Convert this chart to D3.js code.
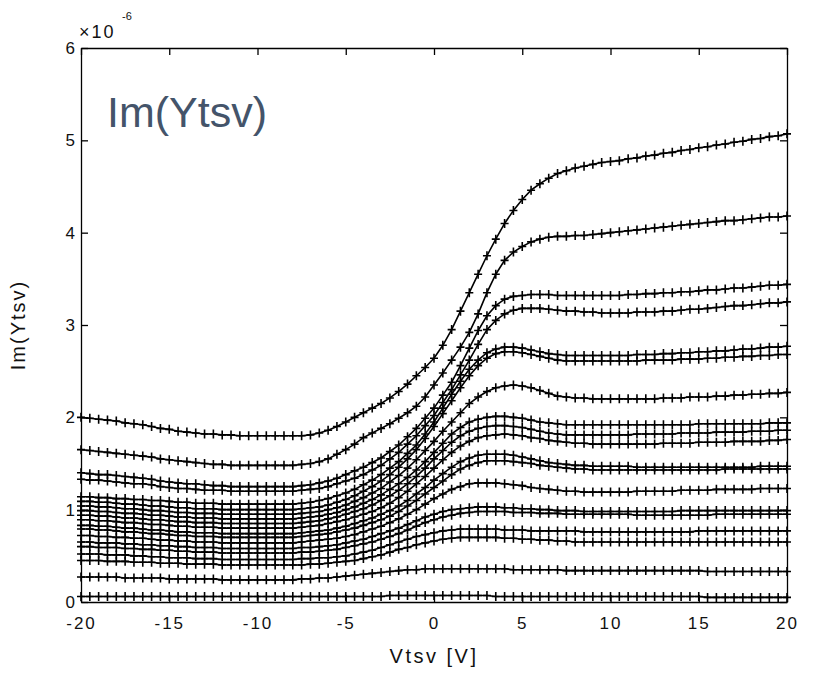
<!DOCTYPE html>
<html>
<head>
<meta charset="utf-8">
<script src="https://cdn.jsdelivr.net/npm/d3@7"></script>
<style>
  body { margin: 0; background: #fff; }
  svg text { font-family: "Liberation Sans", Arial, sans-serif; }
</style>
</head>
<body>
<svg id="chart" width="818" height="674"></svg>
<script>
// gate voltage sweep, -20 V .. 20 V in 0.5 V steps (81 points)
var vtsv = d3.range(-20, 20.25, 0.5);

var curveA = [2.00,1.99,1.98,1.97,1.96,1.94,1.93,1.92,1.90,1.88,1.87,1.85,1.84,1.83,1.82,1.82,1.81,1.81,1.80,1.80,1.80,
  1.80,1.80,1.80,1.80,1.80,1.81,
  1.83,1.86,1.90,1.95,2.00,2.05,2.10,2.15,2.21,2.28,2.36,2.45,2.54,2.64,2.78,2.95,3.15,3.35,3.55,3.75,3.93,4.10,4.24,4.36,4.46,4.53,4.59,4.64,4.67,4.70,4.72,4.74,4.76,4.77,
  4.78,4.80,4.81,4.83,4.84,4.86,4.87,4.89,4.90,4.92,4.93,4.95,4.96,4.98,4.99,5.01,5.02,5.04,5.05,5.07];
var curveB = [1.65,1.64,1.63,1.62,1.61,1.60,1.59,1.58,1.57,1.55,1.54,1.53,1.52,1.51,1.50,1.49,1.49,1.48,1.48,1.48,1.48,
  1.48,1.48,1.48,1.48,1.49,1.50,
  1.52,1.55,1.60,1.65,1.71,1.78,1.83,1.88,1.93,1.99,2.05,2.12,2.22,2.35,2.48,2.62,2.76,2.92,3.12,3.35,3.55,3.70,3.79,3.85,3.90,3.93,3.95,3.96,3.96,3.97,3.97,3.98,3.99,4.00,
  4.01,4.02,4.03,4.04,4.05,4.06,4.07,4.08,4.09,4.10,4.11,4.12,4.13,4.13,4.14,4.15,4.16,4.17,4.17,4.18];
var curveC = [1.40,1.39,1.38,1.38,1.37,1.36,1.35,1.34,1.33,1.31,1.30,1.29,1.28,1.28,1.27,1.26,1.26,1.25,1.25,1.25,1.25,
  1.25,1.25,1.25,1.25,1.26,1.27,
  1.29,1.31,1.34,1.38,1.42,1.46,1.51,1.56,1.63,1.70,1.79,1.88,1.99,2.10,2.24,2.38,2.56,2.75,2.94,3.10,3.21,3.28,3.31,3.32,3.33,3.33,3.33,3.32,3.32,3.32,3.32,3.32,3.32,3.32,
  3.32,3.33,3.33,3.34,3.34,3.35,3.35,3.36,3.36,3.37,3.38,3.38,3.39,3.40,3.40,3.41,3.42,3.43,3.43,3.44];
var curveD = [1.33,1.32,1.32,1.31,1.30,1.29,1.28,1.28,1.27,1.25,1.24,1.23,1.23,1.22,1.21,1.21,1.21,1.20,1.20,1.20,1.20,
  1.20,1.20,1.20,1.20,1.21,1.22,
  1.23,1.25,1.28,1.31,1.34,1.38,1.43,1.48,1.55,1.62,1.71,1.80,1.91,2.02,2.16,2.30,2.46,2.62,2.79,2.95,3.05,3.12,3.16,3.18,3.18,3.18,3.17,3.16,3.15,3.15,3.14,3.14,3.13,3.13,
  3.13,3.13,3.14,3.14,3.14,3.15,3.15,3.16,3.17,3.17,3.18,3.19,3.20,3.21,3.21,3.22,3.23,3.24,3.24,3.25];
var curveE = [1.14,1.14,1.13,1.13,1.12,1.12,1.11,1.11,1.10,1.10,1.09,1.08,1.08,1.07,1.07,1.07,1.06,1.06,1.06,1.06,1.06,
  1.06,1.06,1.06,1.06,1.07,1.08,
  1.10,1.12,1.15,1.18,1.22,1.27,1.32,1.38,1.45,1.52,1.61,1.70,1.82,1.95,2.10,2.25,2.39,2.52,2.62,2.70,2.74,2.76,2.76,2.75,2.73,2.71,2.69,2.68,2.67,2.67,2.67,2.67,2.67,2.67,
  2.67,2.67,2.68,2.68,2.68,2.69,2.69,2.70,2.70,2.71,2.71,2.72,2.72,2.73,2.74,2.74,2.75,2.76,2.76,2.77];
var curveF = [1.09,1.09,1.08,1.08,1.07,1.06,1.06,1.05,1.04,1.04,1.03,1.02,1.02,1.01,1.01,1.01,1.00,1.00,1.00,1.00,1.00,
  1.00,1.00,1.00,1.00,1.01,1.02,
  1.03,1.05,1.08,1.11,1.15,1.20,1.25,1.31,1.38,1.46,1.55,1.65,1.77,1.90,2.04,2.18,2.32,2.45,2.56,2.64,2.69,2.71,2.71,2.70,2.68,2.66,2.64,2.62,2.61,2.61,2.61,2.61,2.61,2.61,
  2.61,2.61,2.61,2.62,2.62,2.62,2.62,2.63,2.63,2.63,2.64,2.64,2.65,2.65,2.66,2.66,2.67,2.67,2.68,2.68];
var curveG = [1.04,1.04,1.03,1.03,1.02,1.01,1.01,1.00,0.99,0.99,0.98,0.97,0.97,0.96,0.96,0.96,0.95,0.95,0.95,0.95,0.95,
  0.95,0.95,0.95,0.95,0.96,0.97,
  0.98,1.00,1.02,1.05,1.09,1.13,1.18,1.23,1.30,1.37,1.45,1.54,1.64,1.74,1.85,1.95,2.05,2.15,2.22,2.28,2.32,2.34,2.35,2.34,2.32,2.29,2.26,2.23,2.22,2.21,2.21,2.20,2.20,2.20,
  2.20,2.20,2.20,2.20,2.20,2.21,2.21,2.21,2.22,2.22,2.22,2.23,2.23,2.24,2.24,2.25,2.25,2.26,2.26,2.27];
var curveH = [0.99,0.99,0.98,0.98,0.97,0.96,0.96,0.95,0.94,0.94,0.93,0.92,0.92,0.91,0.91,0.91,0.90,0.90,0.90,0.90,0.90,
  0.90,0.90,0.90,0.90,0.91,0.92,
  0.93,0.95,0.97,1.00,1.03,1.07,1.11,1.16,1.22,1.28,1.35,1.43,1.52,1.62,1.72,1.82,1.89,1.95,1.98,2.00,2.01,2.01,2.00,1.99,1.97,1.95,1.94,1.93,1.92,1.92,1.92,1.92,1.92,1.92,
  1.92,1.92,1.92,1.92,1.92,1.92,1.92,1.92,1.92,1.93,1.93,1.93,1.93,1.93,1.93,1.93,1.93,1.94,1.94,1.94];
var curveI = [0.94,0.94,0.93,0.93,0.92,0.91,0.91,0.90,0.89,0.89,0.88,0.87,0.87,0.86,0.86,0.86,0.85,0.85,0.85,0.85,0.85,
  0.85,0.85,0.85,0.85,0.86,0.87,
  0.88,0.90,0.92,0.95,0.98,1.01,1.05,1.10,1.15,1.21,1.28,1.36,1.45,1.55,1.64,1.73,1.80,1.85,1.88,1.90,1.91,1.91,1.90,1.89,1.87,1.85,1.83,1.82,1.81,1.81,1.81,1.81,1.81,1.81,
  1.81,1.81,1.82,1.82,1.82,1.82,1.82,1.83,1.83,1.83,1.83,1.84,1.84,1.84,1.84,1.85,1.85,1.85,1.86,1.86];
var curveJ = [0.89,0.89,0.88,0.88,0.87,0.86,0.86,0.85,0.84,0.84,0.83,0.82,0.82,0.81,0.81,0.81,0.80,0.80,0.80,0.80,0.80,
  0.80,0.80,0.80,0.80,0.81,0.82,
  0.83,0.85,0.87,0.89,0.92,0.95,0.98,1.02,1.07,1.13,1.20,1.28,1.36,1.45,1.54,1.62,1.69,1.74,1.78,1.80,1.81,1.82,1.81,1.80,1.78,1.77,1.75,1.74,1.73,1.72,1.72,1.71,1.71,1.71,
  1.71,1.71,1.71,1.71,1.71,1.72,1.72,1.72,1.72,1.73,1.73,1.73,1.73,1.74,1.74,1.74,1.74,1.75,1.75,1.76];
var curveK = [0.83,0.83,0.82,0.82,0.81,0.80,0.80,0.79,0.78,0.78,0.77,0.76,0.76,0.75,0.75,0.75,0.74,0.74,0.74,0.74,0.74,
  0.74,0.74,0.74,0.74,0.75,0.76,
  0.77,0.78,0.80,0.82,0.85,0.88,0.91,0.95,0.99,1.04,1.10,1.17,1.24,1.32,1.39,1.46,1.52,1.56,1.59,1.60,1.60,1.60,1.59,1.57,1.55,1.53,1.51,1.50,1.49,1.48,1.48,1.47,1.47,1.47,
  1.47,1.47,1.46,1.46,1.46,1.46,1.46,1.46,1.46,1.46,1.46,1.46,1.46,1.46,1.46,1.46,1.47,1.47,1.47,1.47];
var curveL = [0.79,0.79,0.78,0.78,0.77,0.76,0.76,0.75,0.74,0.74,0.73,0.72,0.72,0.71,0.71,0.71,0.70,0.70,0.70,0.70,0.70,
  0.70,0.70,0.70,0.70,0.71,0.72,
  0.73,0.74,0.76,0.78,0.80,0.83,0.86,0.89,0.93,0.98,1.04,1.10,1.17,1.24,1.31,1.38,1.44,1.48,1.51,1.53,1.53,1.53,1.52,1.51,1.50,1.48,1.47,1.46,1.45,1.44,1.44,1.43,1.43,1.43,
  1.43,1.43,1.43,1.43,1.43,1.43,1.43,1.43,1.43,1.43,1.43,1.43,1.44,1.44,1.44,1.44,1.44,1.44,1.44,1.44];
var curveM = [0.72,0.72,0.71,0.71,0.70,0.70,0.69,0.69,0.68,0.67,0.67,0.66,0.66,0.65,0.65,0.65,0.64,0.64,0.64,0.64,0.64,
  0.64,0.64,0.64,0.64,0.65,0.66,
  0.67,0.68,0.69,0.71,0.73,0.76,0.79,0.82,0.86,0.90,0.95,1.00,1.06,1.12,1.17,1.22,1.25,1.28,1.29,1.29,1.29,1.28,1.27,1.26,1.24,1.23,1.22,1.21,1.20,1.20,1.19,1.19,1.19,1.19,
  1.19,1.19,1.20,1.20,1.20,1.20,1.20,1.21,1.21,1.21,1.21,1.22,1.22,1.22,1.22,1.22,1.23,1.23,1.23,1.23];
var curveN = [0.65,0.65,0.64,0.64,0.64,0.63,0.63,0.62,0.62,0.61,0.61,0.60,0.60,0.59,0.59,0.59,0.58,0.58,0.58,0.58,0.58,
  0.58,0.58,0.58,0.58,0.59,0.59,
  0.60,0.61,0.62,0.64,0.66,0.68,0.71,0.74,0.77,0.80,0.84,0.88,0.92,0.95,0.98,1.00,1.01,1.02,1.03,1.03,1.03,1.02,1.02,1.01,1.01,1.00,1.00,0.99,0.99,0.99,0.98,0.98,0.98,0.98,
  0.98,0.98,0.98,0.98,0.98,0.98,0.98,0.99,0.99,0.99,0.99,0.99,0.99,0.99,0.99,0.99,0.99,0.99,0.99,0.99];
var curveO = [0.60,0.60,0.59,0.59,0.59,0.58,0.58,0.57,0.57,0.56,0.56,0.55,0.55,0.54,0.54,0.54,0.53,0.53,0.53,0.53,0.53,
  0.53,0.53,0.53,0.53,0.54,0.54,
  0.55,0.56,0.57,0.59,0.61,0.63,0.65,0.68,0.71,0.74,0.78,0.82,0.86,0.89,0.92,0.94,0.96,0.97,0.98,0.98,0.98,0.98,0.97,0.97,0.97,0.96,0.96,0.96,0.95,0.95,0.95,0.95,0.95,0.95,
  0.95,0.95,0.94,0.94,0.94,0.94,0.94,0.94,0.94,0.94,0.94,0.95,0.95,0.95,0.95,0.95,0.95,0.95,0.95,0.95];
var curveP = [0.52,0.52,0.52,0.51,0.51,0.51,0.50,0.50,0.49,0.49,0.48,0.48,0.48,0.47,0.47,0.47,0.46,0.46,0.46,0.46,0.46,
  0.46,0.46,0.46,0.46,0.47,0.47,
  0.48,0.48,0.49,0.50,0.52,0.54,0.56,0.59,0.62,0.65,0.68,0.71,0.73,0.75,0.77,0.78,0.79,0.79,0.79,0.79,0.79,0.78,0.78,0.78,0.77,0.77,0.77,0.77,0.77,0.77,0.76,0.76,0.76,0.76,
  0.76,0.76,0.76,0.76,0.76,0.76,0.76,0.76,0.76,0.77,0.77,0.77,0.77,0.77,0.77,0.77,0.77,0.77,0.77,0.77];
var curveQ = [0.45,0.45,0.45,0.44,0.44,0.44,0.43,0.43,0.43,0.42,0.42,0.42,0.41,0.41,0.41,0.41,0.40,0.40,0.40,0.40,0.40,
  0.40,0.40,0.40,0.40,0.40,0.41,
  0.41,0.42,0.43,0.44,0.45,0.47,0.49,0.51,0.54,0.57,0.59,0.62,0.64,0.66,0.68,0.69,0.70,0.70,0.70,0.70,0.70,0.69,0.69,0.68,0.68,0.67,0.67,0.66,0.66,0.65,0.65,0.65,0.65,0.65,
  0.65,0.65,0.65,0.65,0.65,0.65,0.65,0.65,0.65,0.65,0.65,0.65,0.65,0.65,0.65,0.65,0.65,0.65,0.65,0.65];
var curveR = [0.27,0.27,0.27,0.27,0.27,0.26,0.26,0.26,0.26,0.26,0.25,0.25,0.25,0.25,0.25,0.25,0.24,0.24,0.24,0.24,0.24,
  0.24,0.24,0.24,0.24,0.25,0.25,
  0.26,0.26,0.27,0.28,0.29,0.30,0.31,0.32,0.33,0.34,0.35,0.35,0.36,0.36,0.36,0.36,0.36,0.36,0.36,0.36,0.36,0.36,0.35,0.35,0.35,0.35,0.35,0.35,0.34,0.34,0.34,0.34,0.34,0.34,
  0.34,0.34,0.34,0.34,0.34,0.34,0.34,0.34,0.34,0.34,0.33,0.33,0.33,0.33,0.33,0.33,0.33,0.33,0.33,0.33];
var curveS = [0.06,0.06,0.06,0.06,0.06,0.06,0.06,0.06,0.06,0.06,0.06,0.06,0.06,0.06,0.06,0.06,0.06,0.06,0.06,0.06,0.06,
  0.06,0.06,0.06,0.06,0.06,0.06,
  0.06,0.06,0.06,0.06,0.06,0.06,0.06,0.06,0.07,0.07,0.07,0.07,0.07,0.07,0.07,0.07,0.07,0.07,0.07,0.07,0.06,0.06,0.06,0.06,0.06,0.06,0.06,0.06,0.06,0.06,0.06,0.06,0.06,0.06,
  0.06,0.06,0.06,0.06,0.06,0.06,0.06,0.06,0.06,0.06,0.05,0.05,0.05,0.05,0.05,0.05,0.05,0.05,0.05,0.05];

var series = [curveA, curveB, curveC, curveD, curveE, curveF, curveG, curveH, curveI, curveJ,
              curveK, curveL, curveM, curveN, curveO, curveP, curveQ, curveR, curveS];

var xTicks = [-20, -15, -10, -5, 0, 5, 10, 15, 20];
var yTicks = [0, 1, 2, 3, 4, 5, 6];

var margin = {top: 48, right: 31, bottom: 72, left: 81};
var width = 818 - margin.left - margin.right;
var height = 674 - margin.top - margin.bottom;

var x = d3.scaleLinear().domain([-20, 20]).range([0, width]);
var y = d3.scaleLinear().domain([0, 6]).range([height, 0]);

var svg = d3.select("#chart");
var g = svg.append("g")
    .attr("transform", "translate(" + margin.left + "," + margin.top + ")");

var line = d3.line()
    .x(function(d, i) { return x(vtsv[i]); })
    .y(function(d) { return y(d); });

// curves: solid line with '+' markers
series.forEach(function(s) {
  g.append("path")
      .datum(s)
      .attr("d", line)
      .attr("fill", "none")
      .attr("stroke", "#000")
      .attr("stroke-width", 1.6);

  g.append("g").selectAll("path")
      .data(s)
      .enter()
      .append("path")
      .attr("transform", function(d, i) {
        return "translate(" + x(vtsv[i]) + "," + y(d) + ")";
      })
      .attr("d", "M-4,0H4M0,-4.5V4.5")
      .attr("stroke", "#000")
      .attr("stroke-width", 1.6);
});

// matlab style box, ticks pointing inward on all sides
var fmt = function(d) { return String(d); };

g.append("g")
    .attr("transform", "translate(0," + height + ")")
    .call(d3.axisBottom(x).tickValues(xTicks).tickSizeInner(-7).tickSizeOuter(0).tickPadding(15).tickFormat(fmt));
g.append("g")
    .call(d3.axisTop(x).tickValues(xTicks).tickSizeInner(-7).tickSizeOuter(0).tickFormat(""));
g.append("g")
    .call(d3.axisLeft(y).tickValues(yTicks).tickSizeInner(-7).tickSizeOuter(0).tickPadding(4).tickFormat(fmt));
g.append("g")
    .attr("transform", "translate(" + width + ",0)")
    .call(d3.axisRight(y).tickValues(yTicks).tickSizeInner(-7).tickSizeOuter(0).tickFormat(""));

g.selectAll(".domain, .tick line").attr("stroke", "#000").attr("stroke-width", 1.3);
g.selectAll(".tick text")
    .attr("font-size", 17)
    .attr("font-family", "'Liberation Sans', Arial, sans-serif")
    .attr("fill", "#111")
    .style("letter-spacing", "2px");

// exponent above the y axis
svg.append("text")
    .attr("x", 79).attr("y", 38)
    .attr("font-size", 18)
    .attr("fill", "#111")
    .style("letter-spacing", "2px")
    .text("\u00d710");
svg.append("text")
    .attr("x", 122).attr("y", 20)
    .attr("font-size", 11)
    .attr("fill", "#111")
    .text("-6");

// axis labels
svg.append("text")
    .attr("x", margin.left + width / 2).attr("y", 663)
    .attr("text-anchor", "middle")
    .attr("font-size", 20)
    .attr("fill", "#111")
    .style("letter-spacing", "2.5px")
    .text("Vtsv [V]");
svg.append("text")
    .attr("transform", "translate(25,325) rotate(-90)")
    .attr("text-anchor", "middle")
    .attr("font-size", 20)
    .attr("fill", "#111")
    .style("letter-spacing", "2px")
    .text("Im(Ytsv)");

// title text box inside the axes
svg.append("text")
    .attr("x", 107).attr("y", 127)
    .attr("font-size", 43)
    .attr("fill", "#44546a")
    .text("Im(Ytsv)");
</script>
</body>
</html>
